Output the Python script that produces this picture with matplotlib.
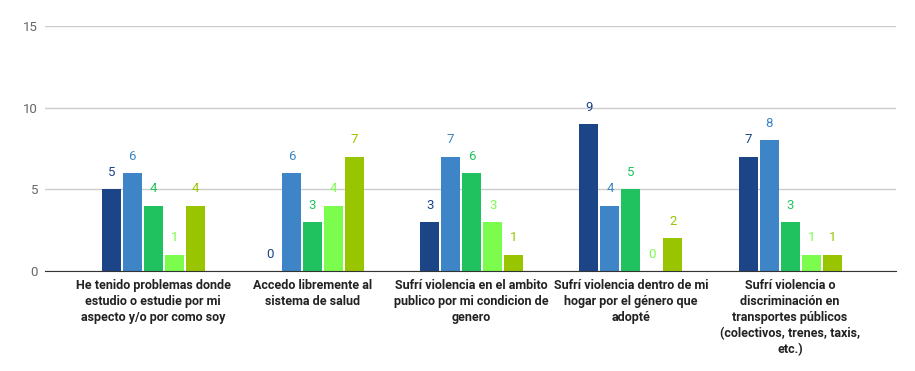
import matplotlib
matplotlib.use('Agg')
import matplotlib.pyplot as plt
import numpy as np

plt.rcParams['font.family'] = ['Roboto', 'DejaVu Sans']

categories = [
    'He tenido problemas donde\nestudio o estudie por mi\naspecto y/o por como soy',
    'Accedo libremente al\nsistema de salud',
    'Sufrí violencia en el ambito\npublico por mi condicion de\ngenero',
    'Sufrí violencia dentro de mi\nhogar por el género que\nadopté',
    'Sufrí violencia o\ndiscriminación en\ntransportes públicos\n(colectivos, trenes, taxis,\netc.)',
]
series_values = [
    [5, 0, 3, 9, 7],
    [6, 6, 7, 4, 8],
    [4, 3, 6, 5, 3],
    [1, 4, 3, 0, 1],
    [4, 7, 1, 2, 1],
]
series_colors = ['#1c4587', '#3d85c6', '#1fc25e', '#7cfc4c', '#99c400']
y_ticks = [0, 5, 10, 15]

fig = plt.figure(figsize=(9.15, 3.71), dpi=100)
ax = fig.add_axes([45 / 915, 1 - 271 / 371, (896 - 45) / 915, 245 / 371])

x = np.arange(len(categories))
bar_w = 0.12
step = 0.132
for i, (vals, col) in enumerate(zip(series_values, series_colors)):
    pos = x + (i - 2) * step
    ax.bar(pos, vals, width=bar_w, color=col, zorder=3)
    for p, v in zip(pos, vals):
        ax.annotate(str(v), (p, v), xytext=(0, 7.5), textcoords='offset points',
                    ha='center', va='bottom', fontsize=9.5, color=col)

ax.set_xlim(-0.68, 4.665)
ax.set_ylim(0, 15)
ax.set_yticks(y_ticks)
ax.set_yticklabels([str(t) for t in y_ticks], color='#666666', fontsize=9.5)
ax.yaxis.grid(True, color='#cccccc', linewidth=1, zorder=0)
ax.tick_params(axis='y', length=0, pad=5)
ax.set_xticks(x)
ax.set_xticklabels(categories, fontsize=9, fontweight='bold', color='#222222',
                   linespacing=1.28)
ax.tick_params(axis='x', length=0, pad=6)
for s in ['top', 'right', 'left']:
    ax.spines[s].set_visible(False)
ax.spines['bottom'].set_color('#333333')
ax.spines['bottom'].set_zorder(4)

fig.savefig('out.png', dpi=100)
